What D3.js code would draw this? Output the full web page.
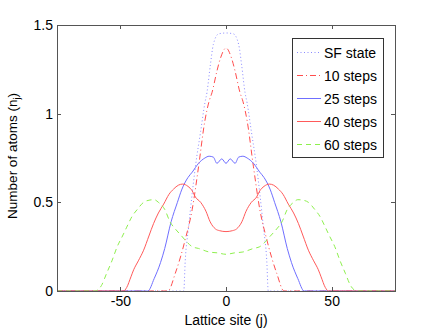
<!DOCTYPE html>
<html><head><meta charset="utf-8">
<script src="https://cdn.jsdelivr.net/npm/d3@7"></script>
<style>body{margin:0;background:#fff}svg{display:block}text{font-family:"Liberation Sans",Arial,sans-serif;fill:#000}</style>
</head><body><div id="c"></div>
<script>
// Data (lattice site j, occupation n_j)
const sfJ   = [-80,-20,-19.3,-17.7,-16,-14.5,-12,-10,-9,-7.4,-6,-3.5,0,3.5,6,7.4,9,10,12,14.5,16,17.7,19.3,20,80];
const sfN   = [0,0,0.17,0.36,0.55,0.70,0.90,1.06,1.12,1.275,1.39,1.45,1.455,1.45,1.39,1.275,1.12,1.06,0.90,0.70,0.55,0.36,0.17,0,0];
const s10J  = [-80,-27.5,-24,-19.3,-16,-13,-10,-8,-6.6,-4.3,-2.7,0,2.7,4.3,6.6,8,10,13,16,19.3,24,27.5,80];
const s10N  = [0,0,0.10,0.29,0.46,0.70,0.96,1.07,1.12,1.24,1.31,1.37,1.31,1.24,1.12,1.07,0.96,0.70,0.46,0.29,0.10,0,0];
const s25J  = [-80,-37,-34,-31,-29,-26,-23,-21,-18,-16,-13,-10,-8,-6,-4.3,-2,0,2,4.3,6,8,10,13,16,18,21,23,26,29,31,34,37,80];
const s25N  = [0,0,0.07,0.16,0.24,0.39,0.50,0.57,0.64,0.67,0.72,0.75,0.76,0.755,0.72,0.745,0.72,0.745,0.72,0.755,0.76,0.75,0.72,0.67,0.64,0.57,0.50,0.39,0.24,0.16,0.07,0,0];
const s40J  = [-80,-48.5,-47,-45,-43.7,-41.5,-39,-36.5,-34.3,-32,-29.5,-27,-24.8,-22.5,-20.5,-18,-16,-14.5,-12,-9.5,-7.5,-5,-3,0,3,5,7.5,9.5,12,14.5,16,18,20.5,22.5,24.8,27,29.5,32,34.3,36.5,39,41.5,43.7,45,47,48.5,80];
const s40N  = [0,0,0.02,0.08,0.12,0.17,0.23,0.31,0.38,0.44,0.49,0.545,0.575,0.597,0.603,0.59,0.565,0.53,0.50,0.45,0.39,0.35,0.34,0.335,0.34,0.35,0.39,0.45,0.50,0.53,0.565,0.59,0.603,0.597,0.575,0.545,0.49,0.44,0.38,0.31,0.23,0.17,0.12,0.08,0.02,0,0];
const s60J  = [-80,-62,-59,-56.5,-54,-51.5,-49,-47,-44.5,-42,-39,-36,-34,-32,-29,-26.5,-24,-21,-18,-16,-13,-8,-4,0,4,8,13,16,18,21,24,26.5,29,32,34,36,39,42,44.5,47,49,51.5,54,56.5,59,62,80];
const s60N  = [0,0,0.03,0.10,0.17,0.25,0.31,0.36,0.42,0.46,0.50,0.513,0.515,0.50,0.46,0.39,0.35,0.31,0.27,0.25,0.24,0.22,0.215,0.207,0.215,0.22,0.24,0.25,0.27,0.31,0.35,0.39,0.46,0.50,0.515,0.513,0.50,0.46,0.42,0.36,0.31,0.25,0.17,0.10,0.03,0,0];

const seriesNames = ["SF state","10 steps","25 steps","40 steps","60 steps"];
const xTicks = [-50,0,50];
const yTicks = [0,0.5,1,1.5];

const W=436,H=328, M={l:57,t:25,r:41,b:37};
const iw=W-M.l-M.r, ih=H-M.t-M.b;
const svg=d3.select("#c").append("svg").attr("width",W).attr("height",H);
const x=d3.scaleLinear().domain([-80,80]).range([M.l,M.l+iw]);
const y=d3.scaleLinear().domain([0,1.5]).range([M.t+ih,M.t]);

const styles=[
 {c:"#8a8aff",d:"1,2.5"},
 {c:"#ff4d4d",d:"6,3,1,3"},
 {c:"#6f6fff",d:null},
 {c:"#ff5a5a",d:null},
 {c:"#8ef04e",d:"5,4"}
];
const data=[[sfJ,sfN],[s10J,s10N],[s25J,s25N],[s40J,s40N],[s60J,s60N]];

svg.append("defs").append("clipPath").attr("id","cp").append("rect")
 .attr("x",M.l).attr("y",M.t-2).attr("width",iw).attr("height",ih+2);

const line=d3.line().x(d=>x(d[0])).y(d=>y(d[1])).curve(d3.curveMonotoneX);
const g=svg.append("g").attr("clip-path","url(#cp)");
data.forEach((s,i)=>{
  const pts=s[0].map((j,k)=>[j,s[1][k]]);
  g.append("path").attr("d",line(pts)).attr("fill","none")
   .attr("stroke",styles[i].c).attr("stroke-width",1)
   .attr("stroke-dasharray",styles[i].d);
});

// axes box & ticks
const ax="#555";
const tl=4;
const FS=14;
const xb=d3.axisBottom(x).tickValues(xTicks).tickSize(0).tickPadding(5).tickFormat(d3.format("d"));
const gx=svg.append("g").attr("transform",`translate(0,${M.t+ih})`).call(xb);
gx.select(".domain").remove();
gx.selectAll("text").attr("font-size",FS).attr("font-family","Liberation Sans, Arial, sans-serif").attr("fill","#000").text(d=>String(d));
const yl=d3.axisLeft(y).tickValues(yTicks).tickSize(0).tickPadding(4).tickFormat(d=>d);
const gy=svg.append("g").attr("transform",`translate(${M.l},0)`).call(yl);
gy.select(".domain").remove();
gy.selectAll("text").attr("font-size",FS).attr("font-family","Liberation Sans, Arial, sans-serif").attr("fill","#000");

const tg=svg.append("g").attr("stroke",ax).attr("stroke-width",1);
xTicks.forEach(t=>{
  const px=Math.round(x(t))+0.5;
  tg.append("line").attr("x1",px).attr("x2",px).attr("y1",M.t+ih).attr("y2",M.t+ih-tl);
  tg.append("line").attr("x1",px).attr("x2",px).attr("y1",M.t).attr("y2",M.t+tl);
});
yTicks.forEach(t=>{
  const py=Math.round(y(t))+0.5;
  tg.append("line").attr("x1",M.l).attr("x2",M.l+tl).attr("y1",py).attr("y2",py);
  tg.append("line").attr("x1",M.l+iw).attr("x2",M.l+iw-tl).attr("y1",py).attr("y2",py);
});
svg.append("rect").attr("x",M.l+0.5).attr("y",M.t+0.5).attr("width",iw).attr("height",ih)
 .attr("fill","none").attr("stroke",ax).attr("stroke-width",1);

// labels
svg.append("text").attr("x",x(0)).attr("y",325).attr("text-anchor","middle").attr("font-size",FS).text("Lattice site (j)");
const ylab=svg.append("text").attr("transform",`translate(17,${M.t+ih/2-2}) rotate(-90)`).attr("text-anchor","middle").attr("font-size",13.5);
ylab.append("tspan").text("Number of atoms (n");
ylab.append("tspan").attr("font-size",9).attr("dy",3).text("j");
ylab.append("tspan").attr("dy",-3).text(")");

// legend
const lg=svg.append("g");
lg.append("rect").attr("x",292.5).attr("y",38.5).attr("width",91).attr("height",119)
 .attr("fill","#fff").attr("stroke","#333").attr("stroke-width",1);
seriesNames.forEach((n,i)=>{
  const yy=52.5+23*i;
  lg.append("line").attr("x1",297).attr("x2",321).attr("y1",yy).attr("y2",yy)
   .attr("stroke",styles[i].c).attr("stroke-width",1).attr("stroke-dasharray",styles[i].d);
  lg.append("text").attr("x",324).attr("y",yy+5).attr("font-size",FS).text(n);
});
</script></body></html>
